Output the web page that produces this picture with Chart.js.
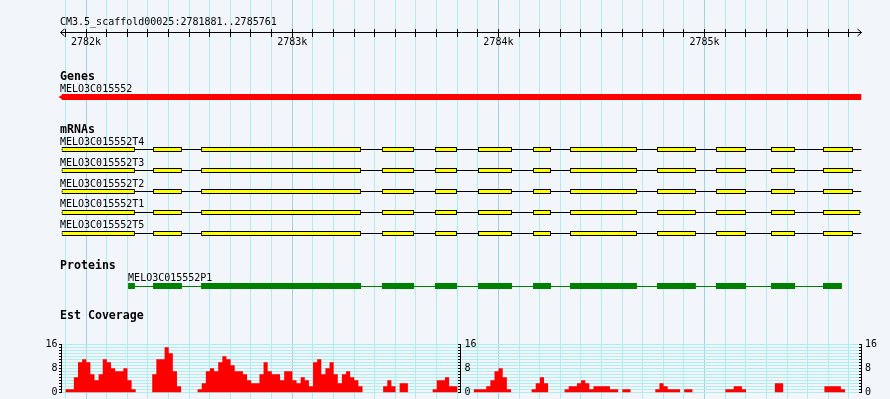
<!DOCTYPE html>
<html lang="en">
<head>
<meta charset="UTF-8">
<title>MELO3C015552</title>
<script src="https://cdn.jsdelivr.net/npm/chart.js"></script>
<style>
  html, body { margin: 0; padding: 0; background: #f2f5fa; }
  canvas { display: block; }
</style>
</head>
<body>
<canvas id="track" width="890" height="399"></canvas>
<script>
// ---- data ----
const refName = 'CM3.5_scaffold00025';
const viewStart = 2781881;
const viewEnd = 2785761;

const geneName = 'MELO3C015552';
const geneStart = 2781881;
const geneEnd = 2785761;

const mrnaNames = ['MELO3C015552T4', 'MELO3C015552T3', 'MELO3C015552T2', 'MELO3C015552T1', 'MELO3C015552T5'];
const exonStarts = [2781881, 2782325, 2782558, 2783435, 2783692, 2783901, 2784168, 2784347, 2784769, 2785055, 2785322, 2785574];
const exonEnds   = [2782237, 2782465, 2783334, 2783591, 2783799, 2784066, 2784255, 2784672, 2784958, 2785201, 2785439, 2785720];
const lastExonEnds = [2785720, 2785720, 2785720, 2785755, 2785720];

const proteinName = 'MELO3C015552P1';
const cdsStarts = [2782204, 2782325, 2782558, 2783435, 2783692, 2783901, 2784168, 2784347, 2784769, 2785055, 2785322, 2785574];
const cdsEnds   = [2782237, 2782465, 2783334, 2783591, 2783799, 2784066, 2784255, 2784672, 2784958, 2785201, 2785439, 2785666];

// EST coverage, 20 bp bins from covBinStart
const covBinStart = 2781881;
const covBinSize = 20;
const covValues = [
  0, 1, 1, 5, 10, 11, 10, 6, 4, 6,
  11, 10, 8, 7, 7, 8, 4, 1, 0, 0,
  0, 0, 6, 11, 11, 15, 13, 7, 2, 0,
  0, 0, 0, 1, 3, 7, 8, 7, 10, 12,
  11, 9, 7, 7, 6, 4, 3, 3, 6, 10,
  7, 6, 6, 4, 7, 7, 4, 3, 5, 4,
  2, 10, 11, 6, 8, 10, 6, 3, 6, 7,
  5, 4, 2, 0, 0, 0, 0, 0, 2, 4,
  2, 0, 3, 3, 0, 0, 0, 0, 0, 0,
  1, 4, 4, 5, 2, 2, 0, 0, 0, 0,
  1, 1, 1, 2, 4, 7, 8, 5, 1, 0,
  0, 0, 0, 0, 1, 3, 5, 3, 0, 0,
  0, 0, 1, 2, 2, 3, 4, 3, 1, 2,
  2, 2, 2, 1, 1, 0, 1, 1, 0, 0,
  0, 0, 0, 0, 1, 3, 2, 1, 1, 1,
  0, 1, 1, 0, 0, 0, 0, 0, 0, 0,
  0, 1, 1, 2, 2, 1, 0, 0, 0, 0,
  0, 0, 0, 3, 3, 0, 0, 0, 0, 0,
  0, 0, 0, 0, 0, 2, 2, 2, 2, 1,
  0, 0, 0, 0
];
const covTickValues = [0, 1, 2, 3, 4, 5, 6, 7, 8, 9, 10, 11, 12, 13, 14, 15, 16];
const covLabelTicks = [0, 8, 16];

// ---- layout ----
const W = 890, H = 399;
const PLOT_LEFT = 61.5, PLOT_RIGHT = 861.5;
const ROW_PX = 10.5, ROW0_PX = 2.5;
const rowOf = {
  ruler: 2.81, genesTitle: 7, gene: 9, mrnaTitle: 12, mrna: [14, 16, 18, 20, 22],
  proteinTitle: 25, protein: 27, proteinLine: 27 + 0.5 / ROW_PX, covTitle: 29.8
};
const COV_ZERO_PX = 392.4, COV_PX = 3.0125;
const covAxisPx = [61.5, 461, 861.5];
const covLabelPx = [57.5, 476.5, 877];

const MONO = '"DejaVu Sans Mono", "Liberation Mono", monospace';
const RED = '#ff0000', YELLOW = '#ffff00', GREEN = '#008000';
const GRID_MINOR = '#afeeee', GRID_MAJOR = '#a0d2e6';

const bpAt = px => viewStart + (px - PLOT_LEFT) * (viewEnd - viewStart) / (PLOT_RIGHT - PLOT_LEFT);

// ---- build datasets ----
const exonBars = [], intronBars = [];
mrnaNames.forEach((name, t) => {
  const row = rowOf.mrna[t];
  intronBars.push({ x: [geneStart, geneEnd], y: row });
  exonStarts.forEach((s, i) => {
    const e = i === exonStarts.length - 1 ? lastExonEnds[t] : exonEnds[i];
    exonBars.push({ x: [s, e], y: row });
  });
});
const cdsBars = cdsStarts.map((s, i) => ({ x: [s, cdsEnds[i]], y: rowOf.protein }));

const covPoints = covValues.map((v, i) => ({ x: covBinStart + i * covBinSize, y: v }));
covPoints.push({ x: covBinStart + covValues.length * covBinSize, y: covValues[covValues.length - 1] });

const rowBar = (opts) => Object.assign({
  type: 'bar', indexAxis: 'y', xAxisID: 'x', yAxisID: 'yRows',
  grouped: false, borderWidth: 0, inflateAmount: 0, borderSkipped: false,
  barPercentage: 1, categoryPercentage: 1
}, opts);

// ---- coverage axes ----
const covRange = { min: -(H - COV_ZERO_PX) / COV_PX, max: COV_ZERO_PX / COV_PX };
const setCovTicks = scale => { scale.ticks = covTickValues.map(v => ({ value: v })); };
// label axes get two invisible end ticks so they add no layout padding
const setLabelTicks = scale => {
  scale.ticks = [{ value: covRange.min }].concat(covTickValues.map(v => ({ value: v })), [{ value: covRange.max }]);
};
const inCov = v => v >= 0 && v <= 16;

function combAxis(px, drawLines) {
  return {
    type: 'linear', axis: 'y', min: covRange.min, max: covRange.max,
    position: { x: bpAt(px) },
    afterBuildTicks: setCovTicks,
    grid: { drawOnChartArea: drawLines, color: GRID_MINOR, tickLength: 3, tickColor: '#000', offset: false },
    border: { display: false },
    ticks: { display: false, autoSkip: false }
  };
}
function labelAxis(px, pad) {
  return {
    type: 'linear', axis: 'y', min: covRange.min, max: covRange.max,
    position: { x: bpAt(px) },
    afterBuildTicks: setLabelTicks,
    grid: { display: false },
    border: { display: false },
    ticks: {
      autoSkip: false, padding: 0, color: '#000',
      font: c => ({ family: MONO, size: c.tick && !inCov(c.tick.value) ? 0.1 : 10 }),
      callback: v => covLabelTicks.includes(v) ? (pad ? String(v).padEnd(2) : String(v)) : ''
    }
  };
}

// ---- text, ruler arrows, coverage axis lines ----
const trackDecor = {
  id: 'trackDecor',
  afterDraw(chart) {
    const { ctx, scales } = chart;
    const xs = scales.x, rows = scales.yRows, cov = scales.yCov;
    const rowY = r => rows.getPixelForValue(r);
    const left = PLOT_LEFT - 1.5;
    ctx.save();
    ctx.fillStyle = '#000';
    ctx.strokeStyle = '#000';
    ctx.lineWidth = 1;
    ctx.textAlign = 'left';
    ctx.textBaseline = 'alphabetic';

    const ry = Math.round(rowY(rowOf.ruler)) + 0.5;
    ctx.beginPath();
    ctx.moveTo(xs.left + 3, ry - 3.5); ctx.lineTo(xs.left - 1, ry); ctx.lineTo(xs.left + 3, ry + 3.5);
    ctx.moveTo(xs.right - 4, ry - 3.5); ctx.lineTo(xs.right, ry); ctx.lineTo(xs.right - 4, ry + 3.5);
    ctx.stroke();

    ctx.font = '10px ' + MONO;
    ctx.fillText(refName + ':' + viewStart + '..' + viewEnd, left, ry - 8);
    ctx.fillText(geneName, xs.getPixelForValue(geneStart) - 1.5, rowY(rowOf.gene) - 5);
    mrnaNames.forEach((n, t) => ctx.fillText(n, xs.getPixelForValue(geneStart) - 1.5, rowY(rowOf.mrna[t]) - 5));
    ctx.fillText(proteinName, xs.getPixelForValue(cdsStarts[0]), rowY(rowOf.protein) - 5);

    ctx.font = 'bold 11.6px ' + MONO;
    ctx.fillText('Genes', left, rowY(rowOf.genesTitle) + 4);
    ctx.fillText('mRNAs', left, rowY(rowOf.mrnaTitle) + 4);
    ctx.fillText('Proteins', left, rowY(rowOf.proteinTitle) + 4);
    ctx.fillText('Est Coverage', left, rowY(rowOf.covTitle) + 4);

    const top = Math.round(cov.getPixelForValue(16)), bottom = Math.round(cov.getPixelForValue(0)) + 1;
    ctx.beginPath();
    covAxisPx.forEach(px => {
      const lx = Math.round(px) - 0.5;
      ctx.moveTo(lx, top); ctx.lineTo(lx, bottom);
    });
    ctx.stroke();
    ctx.restore();
  }
};

Chart.defaults.font.family = MONO;

new Chart(document.getElementById('track'), {
  type: 'bar',
  data: {
    datasets: [
      {
        type: 'line', label: 'Est Coverage', data: covPoints, xAxisID: 'x', yAxisID: 'yCov',
        stepped: true, fill: 'origin', backgroundColor: RED, borderColor: 'rgba(0,0,0,0)',
        borderWidth: 0, pointRadius: 0, order: 0
      },
      rowBar({ label: 'Genes', data: [{ x: [geneStart, geneEnd], y: rowOf.gene }], backgroundColor: RED,
        barThickness: 6, maxBarThickness: 6, order: 1 }),
      {
        type: 'scatter', label: 'strand', data: [{ x: geneStart, y: rowOf.gene }], xAxisID: 'x', yAxisID: 'yRows',
        pointStyle: 'triangle', pointRotation: 270, pointRadius: 3, pointBackgroundColor: RED,
        pointBorderWidth: 0, clip: false, order: 1
      },
      rowBar({ label: 'introns', data: intronBars, backgroundColor: '#000', barThickness: 1, maxBarThickness: 1, order: 3 }),
      rowBar({ label: 'mRNAs', data: exonBars, backgroundColor: YELLOW, borderColor: '#000', borderWidth: 1,
        barThickness: 5, maxBarThickness: 5, order: 2 }),
      rowBar({ label: 'protein span', data: [{ x: [cdsStarts[0], cdsEnds[cdsEnds.length - 1]], y: rowOf.proteinLine }],
        backgroundColor: GREEN, barThickness: 1, maxBarThickness: 1, order: 3 }),
      rowBar({ label: 'Proteins', data: cdsBars, backgroundColor: GREEN, barThickness: 6, maxBarThickness: 6, order: 2 })
    ]
  },
  options: {
    responsive: false,
    animation: false,
    devicePixelRatio: 1,
    events: [],
    layout: { autoPadding: false, padding: { left: PLOT_LEFT, right: W - PLOT_RIGHT, top: 0, bottom: 0 } },
    plugins: { legend: { display: false }, tooltip: { enabled: false }, title: { display: false } },
    scales: {
      x: {
        type: 'linear', axis: 'x', min: viewStart, max: viewEnd, offset: false,
        position: { yRows: rowOf.ruler },
        grid: {
          offset: false, drawOnChartArea: true, tickLength: 4, tickColor: '#000',
          color: c => c.tick && c.tick.value % 1000 === 0 ? GRID_MAJOR : GRID_MINOR
        },
        border: { display: true, color: '#000', width: 1 },
        ticks: {
          stepSize: 100, includeBounds: false, autoSkip: false, maxRotation: 0, minRotation: 0,
          padding: 0, color: '#000', font: { family: MONO, size: 10 },
          callback: v => v % 1000 === 0 ? (v / 1000) + 'k' : ''
        }
      },
      xUp: {
        type: 'linear', axis: 'x', min: viewStart, max: viewEnd, offset: false,
        position: { yRows: rowOf.ruler },
        grid: { offset: false, drawOnChartArea: false, tickLength: -3, tickColor: '#000' },
        border: { display: false },
        ticks: { stepSize: 100, includeBounds: false, autoSkip: false, display: false }
      },
      yRows: {
        type: 'linear', axis: 'y', display: false, reverse: true, offset: false,
        min: -ROW0_PX / ROW_PX, max: (H - ROW0_PX) / ROW_PX,
        grid: { offset: false }, ticks: { includeBounds: false }
      },
      yCov: combAxis(covAxisPx[0], true),
      yCovMid: combAxis(covAxisPx[1], false),
      yCovEnd: combAxis(covAxisPx[2], false),
      yCovLbl: labelAxis(covLabelPx[0], false),
      yCovMidLbl: labelAxis(covLabelPx[1], true),
      yCovEndLbl: labelAxis(covLabelPx[2], true)
    }
  },
  plugins: [trackDecor]
});
</script>
</body>
</html>
